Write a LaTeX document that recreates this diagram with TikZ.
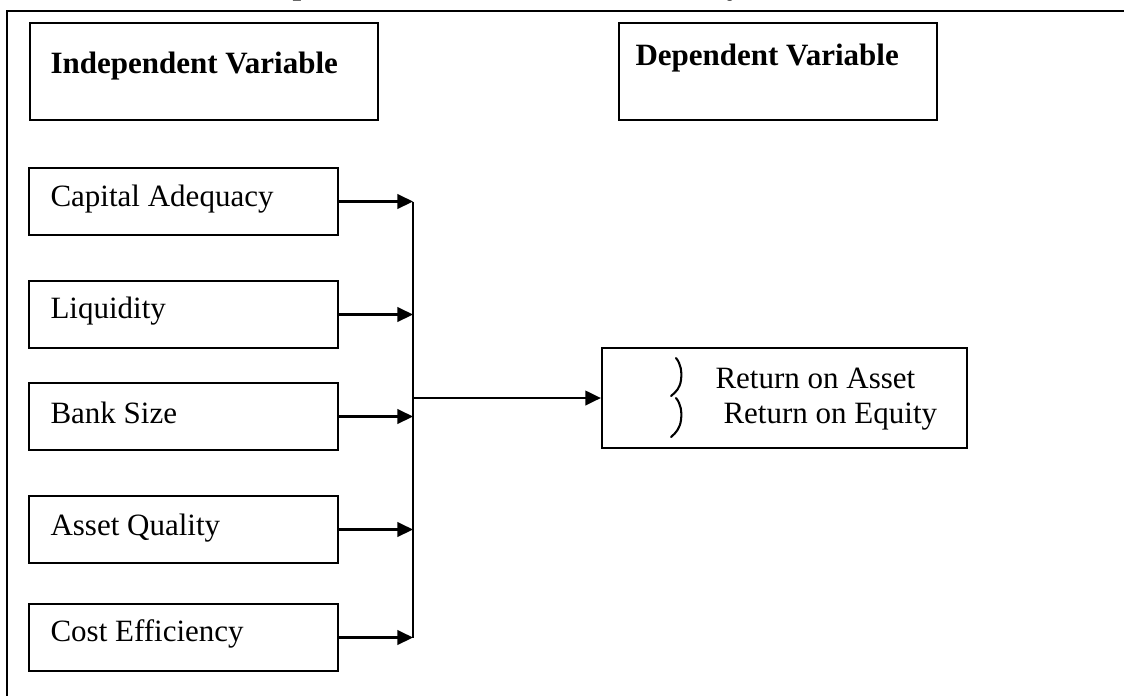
\documentclass[tikz,border=0pt]{standalone}
\usepackage{fontspec}
\setmainfont{Liberation Serif}
\usetikzlibrary{arrows.meta,fit}
\begin{document}
\begin{tikzpicture}[x=0.387pt,y=-0.387pt,
  box/.style={draw,line width=0.85pt,inner sep=0pt},
  txt/.style={anchor=base west,inner sep=0pt,font=\fontsize{12}{14}\selectfont},
  head/.style={anchor=base west,inner sep=0pt,font=\fontsize{12}{14}\selectfont\bfseries},
  link/.style={line width=0.85pt},
  arr/.style={link,-{Triangle[length=6pt,width=5.6pt]}},
  hook/.style={line width=0.8pt,line cap=round}]
\useasboundingbox (0,0) rectangle (1124,695);
\clip (0,0) rectangle (1124,695);

% title (runs off the top edge) and the outer frame
\node[head,anchor=base] (title) at (571,-6) {Conceptual Framework for Profitability Measurement};
\draw[line width=0.9pt] (1140,11) -- (7,11) -- (7,710);

% headings
\node[box,fit={(30,23) (378,120)}] (ivbox) {};
\node[head] (ivtext) at (50,73) {Independent Variable};
\node[box,fit={(619,23) (937,120)}] (dvbox) {};
\node[head] (dvtext) at (635,65) {Dependent Variable};

% independent variables
\node[box,fit={(29,168) (338,235)}] (ca) {};
\node[txt] (catext) at (50,206) {Capital Adequacy};
\node[box,fit={(29,281) (338,348)}] (lq) {};
\node[txt] (lqtext) at (50,318) {Liquidity};
\node[box,fit={(29,383) (338,450)}] (bs) {};
\node[txt] (bstext) at (50,423) {Bank Size};
\node[box,fit={(29,496) (338,563)}] (aq) {};
\node[txt] (aqtext) at (50,535) {Asset Quality};
\node[box,fit={(29,604) (338,671)}] (ce) {};
\node[txt] (cetext) at (50,641) {Cost Efficiency};

% dependent variables
\node[box,fit={(602,348) (967,448)}] (ret) {};
\node[txt] (roa) at (715,388) {Return on Asset};
\node[txt] (roe) at (723,423) {Return on Equity};
\draw[hook] (676,358) .. controls (681,364) and (682,372) .. (681,380)
  .. controls (680,388) and (676,392) .. (671,396);
\draw[hook] (676,398) .. controls (681,404) and (682,412) .. (681,420)
  .. controls (680,428) and (676,433) .. (671,437);

% collecting bus
\coordinate (bus) at (413,205);
\draw[arr] (ca.east) -- (ca.east -| bus);
\draw[arr] (lq.east) -- (lq.east -| bus);
\draw[arr] (bs.east) -- (bs.east -| bus);
\draw[arr] (aq.east) -- (aq.east -| bus);
\draw[arr] (ce.east) -- (ce.east -| bus);
\draw[link] (bus |- ca.east) -- (bus |- ce.east);
\draw[arr] (bus |- ret.west) -- (ret.west);
\end{tikzpicture}
\end{document}
